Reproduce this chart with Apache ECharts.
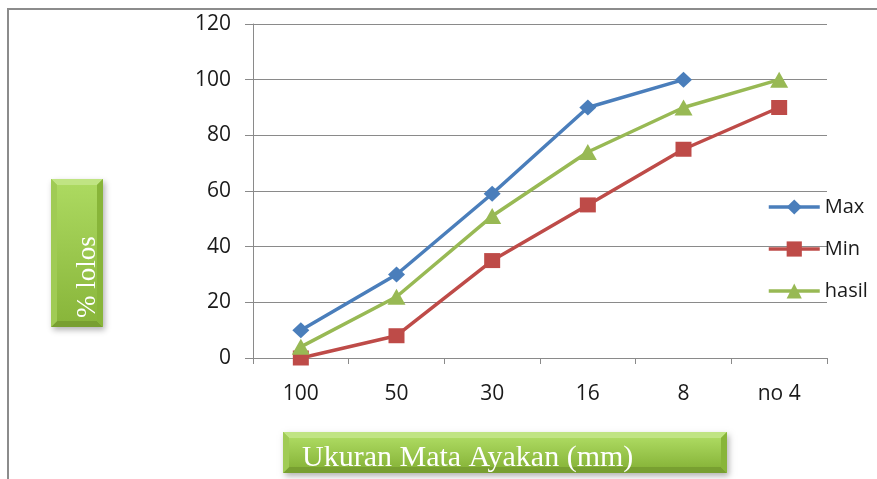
<!DOCTYPE html>
<html>
<head>
<meta charset="utf-8">
<script src="https://cdn.jsdelivr.net/npm/echarts@6/dist/echarts.min.js"></script>
<style>
html,body{margin:0;padding:0;background:#fff;}
#chart{width:877px;height:479px;}
</style>
</head>
<body>
<div id="chart"></div>
<script>
// ---- data ----
var categories = ['100', '50', '30', '16', '8', 'no 4'];
var maxValues = [10, 30, 59, 90, 100, '-'];
var minValues = [0, 8, 35, 55, 75, 90];
var hasilValues = [4, 22, 51, 74, 90, 100];
var yTicks = [0, 20, 40, 60, 80, 100, 120];
var seriesNames = ['Max', 'Min', 'hasil'];
var xTitle = 'Ukuran Mata Ayakan (mm)';
var yTitle = '% lolos';

var chart = echarts.init(document.getElementById('chart'), null, {renderer: 'canvas'});

function bevelBox(x, y, w, h, b) {
  var grad = new echarts.graphic.LinearGradient(0, 0, 0, 1, [
    {offset: 0, color: '#acd960'},
    {offset: 1, color: '#89b63b'}
  ]);
  return {
    type: 'group',
    children: [
      {type: 'rect', shape: {x: x, y: y, width: w, height: h},
       style: {fill: '#97c548', shadowBlur: 6, shadowOffsetX: 2, shadowOffsetY: 3, shadowColor: 'rgba(0,0,0,0.3)'}},
      {type: 'polygon', shape: {points: [[x, y], [x + w, y], [x + w - b, y + b], [x + b, y + b]]},
       style: {fill: '#c0e483'}},
      {type: 'polygon', shape: {points: [[x, y + h], [x + w, y + h], [x + w - b, y + h - b], [x + b, y + h - b]]},
       style: {fill: '#789f31'}},
      {type: 'polygon', shape: {points: [[x, y], [x + b, y + b], [x + b, y + h - b], [x, y + h]]},
       style: {fill: '#a0cb55'}},
      {type: 'polygon', shape: {points: [[x + w, y], [x + w - b, y + b], [x + w - b, y + h - b], [x + w, y + h]]},
       style: {fill: '#88b539'}},
      {type: 'rect', shape: {x: x + b, y: y + b, width: w - 2 * b, height: h - 2 * b},
       style: {fill: grad}}
    ]
  };
}

var axisFont = {fontFamily: 'Open Sans', fontSize: 21, color: '#1a1a1a'};

var option = {
  animation: false,
  backgroundColor: '#ffffff',
  grid: {left: 253, right: 50, top: 24, bottom: 121, containLabel: false},
  legend: {
    orient: 'vertical',
    left: 762,
    top: 192,
    itemWidth: 51,
    itemHeight: 19,
    itemGap: 22,
    data: seriesNames,
    lineStyle: {width: 3.5},
    textStyle: {fontFamily: 'Open Sans', fontSize: 20, color: '#1a1a1a', lineHeight: 20}
  },
  xAxis: {
    type: 'category',
    data: categories,
    boundaryGap: true,
    axisLine: {show: true, lineStyle: {color: '#8a8a8a', width: 1}},
    axisTick: {show: true, length: 6, alignWithLabel: false, lineStyle: {color: '#8a8a8a'}},
    axisLabel: Object.assign({margin: 26}, axisFont),
    splitLine: {show: false}
  },
  yAxis: {
    type: 'value',
    min: yTicks[0],
    max: yTicks[yTicks.length - 1],
    interval: 20,
    axisLine: {show: true, lineStyle: {color: '#8a8a8a', width: 1}},
    axisTick: {show: true, length: 8, lineStyle: {color: '#8a8a8a'}},
    axisLabel: Object.assign({margin: 22}, axisFont),
    splitLine: {show: true, lineStyle: {color: '#8a8a8a', width: 1}}
  },
  series: [
    {
      name: seriesNames[0], type: 'line', data: maxValues,
      symbol: 'diamond', symbolSize: [17, 16],
      lineStyle: {color: '#4a7ebb', width: 3.5},
      itemStyle: {color: '#4a7ebb'},
      emphasis: {disabled: true}
    },
    {
      name: seriesNames[1], type: 'line', data: minValues,
      symbol: 'rect', symbolSize: [16, 15],
      lineStyle: {color: '#be4b48', width: 3.5},
      itemStyle: {color: '#be4b48'},
      emphasis: {disabled: true}
    },
    {
      name: seriesNames[2], type: 'line', data: hasilValues,
      symbol: 'triangle', symbolSize: [18, 16],
      lineStyle: {color: '#98b954', width: 3.5},
      itemStyle: {color: '#98b954'},
      emphasis: {disabled: true}
    }
  ],
  graphic: [
    {type: 'rect', shape: {x: 8, y: 9, width: 1000, height: 600},
     style: {fill: 'none', stroke: '#8c8c8c', lineWidth: 2}, silent: true},
    bevelBox(51, 179, 52, 148, 6),
    bevelBox(283, 432, 444, 41, 6),
    {type: 'text', x: 302, y: 458,
     style: {text: xTitle, fill: '#ffffff', fontFamily: 'Liberation Serif', fontSize: 30, align: 'left', verticalAlign: 'middle'}},
    {type: 'text', x: 88, y: 277, rotation: Math.PI / 2,
     style: {text: yTitle, fill: '#ffffff', fontFamily: 'Liberation Serif', fontSize: 27, align: 'center', verticalAlign: 'middle'}}
  ]
};

chart.setOption(option);
</script>
</body>
</html>
